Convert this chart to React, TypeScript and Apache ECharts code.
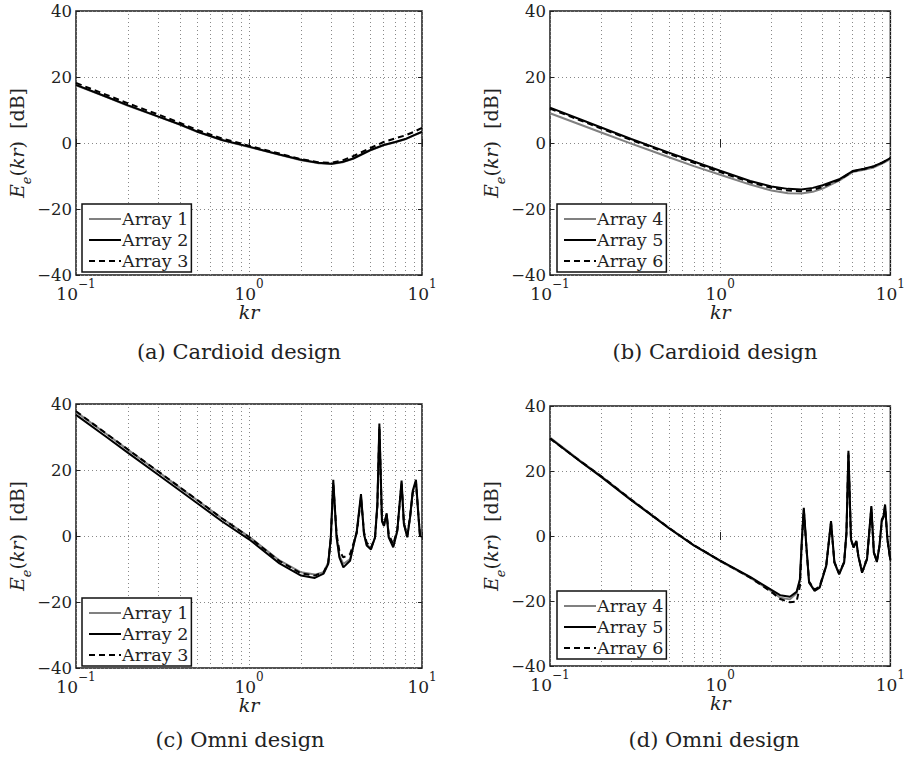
import { useEffect, useRef } from 'react';
import * as echarts from 'echarts';

// Sample points (kr) for the cardioid panels (a) and (b)
const KR_CARDIOID = [0.1, 0.15, 0.2, 0.3, 0.4, 0.5, 0.7, 1, 1.5, 2, 2.5, 3, 3.5, 4, 5, 6, 7, 8, 9, 10];

// (a) Cardioid design, E_e(kr) in dB
const A_ARRAY1 = [17.5, 13.9, 11.3, 7.9, 5.5, 3.4, 0.8, -1.2, -3.6, -5.2, -6.1, -6.4, -5.8, -4.8, -2.3, -0.7, 0.2, 1.1, 2.3, 3.3];
const A_ARRAY2 = [17.6, 14.0, 11.4, 8.0, 5.6, 3.5, 0.9, -1.1, -3.5, -5.1, -6.0, -6.3, -5.7, -4.7, -2.2, -0.6, 0.3, 1.2, 2.4, 3.4];
const A_ARRAY3 = [18.2, 14.6, 12.0, 8.6, 6.1, 4.0, 1.3, -0.8, -3.2, -4.9, -5.8, -6.0, -5.2, -4.0, -1.6, 0.3, 1.4, 2.3, 3.4, 4.6];

// (b) Cardioid design
const B_ARRAY4 = [9.0, 5.6, 3.2, -0.2, -2.5, -4.3, -7.0, -9.6, -12.6, -14.4, -15.2, -15.3, -14.8, -13.8, -11.4, -8.8, -8.1, -7.4, -6.2, -4.9];
const B_ARRAY5 = [10.7, 7.2, 4.7, 1.2, -1.1, -2.9, -5.6, -8.4, -11.5, -13.2, -13.9, -14.1, -13.6, -12.8, -11.0, -8.5, -7.8, -7.0, -5.9, -4.6];
const B_ARRAY6 = [10.4, 6.9, 4.4, 0.9, -1.4, -3.3, -6.0, -8.8, -11.9, -13.6, -14.4, -14.6, -14.2, -13.3, -11.2, -8.6, -7.9, -7.1, -5.9, -4.6];

// (c) Omni design: denser sampling around the resonances
const KR_OMNI_C = [0.1, 0.15, 0.2, 0.3, 0.4, 0.5, 0.7, 1, 1.5, 2, 2.4, 2.7, 2.87, 2.97, 3.07, 3.21, 3.33, 3.51, 3.84, 4.2, 4.44, 4.62, 4.79, 5.07, 5.35, 5.52, 5.67, 5.87, 6.03, 6.25, 6.42, 6.82, 7.2, 7.62, 7.86, 8.22, 8.53, 8.84, 9.23, 9.52, 9.73, 10];
const C_ARRAY1 = [37.6, 30.9, 26.1, 19.4, 14.6, 10.9, 5.3, -0.2, -7.4, -11.0, -11.7, -11.0, -8.0, -0.8, 16.0, -0.6, -6.0, -8.5, -7.0, 1.2, 12.0, 0.6, -2.6, -3.8, -0.6, 9.0, 33.0, 4.4, 3.0, 6.5, -0.2, -3.0, 1.6, 16.2, 3.6, -0.2, 5.5, 13.2, 16.5, 6.5, 0.3, -0.2];
const C_ARRAY2 = [36.7, 30.0, 25.2, 18.5, 13.7, 10.0, 4.4, -1.0, -8.3, -12.0, -12.7, -11.4, -8.5, -0.4, 17.0, -0.4, -6.5, -9.5, -7.5, 1.6, 12.7, 0.6, -2.9, -4.1, -0.4, 9.7, 34.1, 4.6, 3.1, 6.9, -0.4, -3.4, 1.6, 16.8, 3.6, -0.4, 5.7, 13.7, 17.0, 6.7, 0.1, -0.3];
const C_ARRAY3 = [37.8, 31.0, 26.2, 19.5, 14.7, 11.0, 5.3, -0.3, -7.6, -11.3, -12.0, -11.0, -8.2, -1.0, 15.5, 0.5, -4.5, -6.5, -5.5, 1.0, 11.5, 1.2, -2.0, -3.5, -0.5, 9.0, 32.5, 4.8, 3.5, 6.5, 0.5, -2.5, 2.0, 16.0, 3.8, 0.3, 5.8, 13.0, 16.0, 6.8, 0.5, 0.0];

// (d) Omni design
const KR_OMNI_D = [0.1, 0.15, 0.2, 0.3, 0.4, 0.5, 0.7, 1, 1.5, 2, 2.25, 2.57, 2.81, 2.94, 3.02, 3.1, 3.21, 3.33, 3.59, 3.84, 4.2, 4.48, 4.69, 5.0, 5.35, 5.52, 5.67, 5.87, 6.08, 6.31, 6.48, 6.82, 7.29, 7.73, 8.0, 8.33, 8.63, 8.91, 9.12, 9.31, 9.61, 10];
const D_ARRAY4 = [30.3, 23.2, 18.4, 11.2, 6.3, 2.5, -2.9, -7.7, -12.8, -17.0, -19.0, -19.5, -17.6, -14.0, -1.5, 8.2, -3.3, -14.2, -16.7, -15.6, -9.0, 4.2, -8.0, -11.5, -8.0, 1.0, 25.5, -1.0, -3.4, -1.6, -6.0, -11.0, -7.0, 8.8, -5.0, -7.8, -3.0, 4.8, 6.0, 9.3, -1.0, -7.3];
const D_ARRAY5 = [30.1, 23.0, 18.2, 11.0, 6.2, 2.4, -2.9, -7.6, -12.6, -16.6, -18.2, -18.7, -17.2, -13.3, -1.0, 8.7, -3.1, -14.4, -16.9, -15.9, -9.2, 4.6, -8.2, -11.8, -8.2, 1.0, 26.2, -1.0, -3.6, -1.5, -6.2, -11.3, -7.2, 9.2, -5.1, -8.0, -3.1, 5.1, 6.2, 9.7, -1.0, -7.5];
const D_ARRAY6 = [30.0, 23.1, 18.4, 11.2, 6.3, 2.5, -2.8, -7.6, -12.8, -17.2, -19.4, -20.4, -20.2, -15.5, -2.0, 8.0, -3.5, -14.0, -16.5, -15.5, -9.0, 4.0, -8.0, -11.5, -8.0, 0.8, 25.0, -1.2, -3.3, -1.8, -6.0, -11.0, -7.0, 8.5, -5.0, -7.8, -3.0, 4.6, 5.8, 9.0, -1.2, -7.4];

const NAMES_1_3 = ['Array 1', 'Array 2', 'Array 3'];
const NAMES_4_6 = ['Array 4', 'Array 5', 'Array 6'];
const CAPTIONS = ['(a) Cardioid design', '(b) Cardioid design', '(c) Omni design', '(d) Omni design'];

// Minor log-decade grid positions (2..9 within each decade)
const MINOR_GRID_KR = [0.2, 0.3, 0.4, 0.5, 0.6, 0.7, 0.8, 0.9, 2, 3, 4, 5, 6, 7, 8, 9];

const FONT = '"DejaVu Serif", "Liberation Serif", serif';
const INK = '#222';
const GRAY = '#808080';
const DOTTED = { type: [1, 3] as number[], color: '#888', width: 1 };

const PANELS = [
  { box: [76, 11, 346, 264], kr: KR_CARDIOID, names: NAMES_1_3, values: [A_ARRAY1, A_ARRAY2, A_ARRAY3], legendAt: [82, 204], captionAt: [239, 352] },
  { box: [550, 11, 346, 264], kr: KR_CARDIOID, names: NAMES_4_6, values: [B_ARRAY4, B_ARRAY5, B_ARRAY6], legendAt: [557, 204], captionAt: [715, 352] },
  { box: [76, 404, 346, 264], kr: KR_OMNI_C, names: NAMES_1_3, values: [C_ARRAY1, C_ARRAY2, C_ARRAY3], legendAt: [82, 598], captionAt: [240, 740] },
  { box: [550, 406, 346, 260], kr: KR_OMNI_D, names: NAMES_4_6, values: [D_ARRAY4, D_ARRAY5, D_ARRAY6], legendAt: [557, 591], captionAt: [714, 740] },
];

const LINE_STYLES = [
  { color: GRAY, width: 2, type: 'solid' },
  { color: '#000', width: 2, type: 'solid' },
  { color: '#000', width: 2, type: [6, 4] },
];

const fmtDb = (v: number) => (v < 0 ? `\u2212${-v}` : `${v}`);
const fmtExp = (v: number) => {
  const e = Math.round(Math.log10(v));
  return e < 0 ? `\u2212${-e}` : `${e}`;
};

function buildOption() {
  const grid: any[] = [];
  const xAxis: any[] = [];
  const yAxis: any[] = [];
  const series: any[] = [];
  const legend: any[] = [];
  const graphic: any[] = [];

  PANELS.forEach((p, i) => {
    const [left, top, width, height] = p.box;
    grid.push({ left, top, width, height, show: true, borderColor: '#1a1a1a', borderWidth: 1.5, backgroundColor: 'transparent' });

    const logScale = { type: 'log', logBase: 10, min: 0.1, max: 10, gridIndex: i };
    const ticks = { inside: true, length: 4, lineStyle: { color: INK, width: 1 } };

    xAxis.push({
      ...logScale,
      position: 'bottom',
      axisLine: { show: false },
      axisTick: ticks,
      axisLabel: {
        margin: 3,
        formatter: (v: number) => `{b|10}{s|${fmtExp(v)}}`,
        rich: {
          b: { fontFamily: FONT, fontSize: 17, color: INK, lineHeight: 24, verticalAlign: 'bottom' },
          s: { fontFamily: FONT, fontSize: 12, color: INK, lineHeight: 12, verticalAlign: 'top' },
        },
      },
      splitLine: { show: true, lineStyle: DOTTED },
      name: 'kr',
      nameLocation: 'middle',
      nameGap: 16,
      nameTextStyle: { fontFamily: FONT, fontSize: 19, fontStyle: 'italic', color: INK },
    });
    xAxis.push({
      ...logScale,
      position: 'top',
      axisLine: { show: false },
      axisTick: ticks,
      axisLabel: { show: false },
      splitLine: { show: false },
    });

    yAxis.push({
      type: 'value',
      gridIndex: i,
      min: -40,
      max: 40,
      interval: 20,
      position: 'left',
      axisLine: { show: false },
      axisTick: ticks,
      axisLabel: { margin: 4, formatter: fmtDb, fontFamily: FONT, fontSize: 16.5, color: INK },
      splitLine: { show: true, lineStyle: DOTTED },
      name: '{i|E}{sub|e}{r|(}{i|kr}{r|)  [dB]}',
      nameLocation: 'middle',
      nameGap: 37,
      nameTextStyle: {
        fontFamily: FONT,
        color: INK,
        rich: {
          i: { fontFamily: FONT, fontStyle: 'italic', fontSize: 19, color: INK, lineHeight: 26, verticalAlign: 'top' },
          sub: { fontFamily: FONT, fontStyle: 'italic', fontSize: 13, color: INK, lineHeight: 14, verticalAlign: 'bottom' },
          r: { fontFamily: FONT, fontSize: 19, color: INK, lineHeight: 26, verticalAlign: 'top' },
        },
      },
    });
    yAxis.push({
      type: 'value',
      gridIndex: i,
      min: -40,
      max: 40,
      interval: 20,
      position: 'right',
      axisLine: { show: false },
      axisTick: ticks,
      axisLabel: { show: false },
      splitLine: { show: false },
    });

    p.names.forEach((name, k) => {
      const s: any = {
        type: 'line',
        name,
        xAxisIndex: 2 * i,
        yAxisIndex: 2 * i,
        data: p.kr.map((x, j) => [x, p.values[k][j]]),
        symbol: 'none',
        showSymbol: false,
        lineStyle: LINE_STYLES[k],
        itemStyle: { color: LINE_STYLES[k].color },
        z: 2 + k,
        silent: true,
      };
      if (k === 0) {
        s.markLine = {
          silent: true,
          z: 1,
          symbol: 'none',
          label: { show: false },
          lineStyle: DOTTED,
          data: MINOR_GRID_KR.map((v) => ({ xAxis: v })),
        };
      }
      series.push(s);
    });

    legend.push({
      orient: 'vertical',
      left: p.legendAt[0],
      top: p.legendAt[1],
      data: p.names,
      selectedMode: false,
      itemWidth: 32,
      itemHeight: 12,
      itemGap: 3,
      padding: [6, 3, 2, 6],
      borderColor: '#111',
      borderWidth: 1.5,
      backgroundColor: '#fff',
      itemStyle: { opacity: 0 },
      textStyle: { fontFamily: FONT, fontSize: 17.5, color: INK, padding: [0, 0, 0, -4] },
    });

    graphic.push({
      type: 'text',
      x: p.captionAt[0],
      y: p.captionAt[1],
      style: {
        text: CAPTIONS[i],
        fontFamily: FONT,
        fontSize: 21,
        fill: INK,
        textAlign: 'center',
        textVerticalAlign: 'middle',
        align: 'center',
        verticalAlign: 'middle',
      },
    });
  });

  return { animation: false, backgroundColor: '#fff', grid, xAxis, yAxis, series, legend, graphic };
}

export default function App() {
  const ref = useRef<HTMLDivElement>(null);
  useEffect(() => {
    const chart = echarts.init(ref.current!, null, { renderer: 'svg' });
    chart.setOption(buildOption() as any);
    return () => chart.dispose();
  }, []);
  return <div ref={ref} style={{ position: 'absolute', left: 0, top: 0, width: 908, height: 760, background: '#fff' }} />;
}
